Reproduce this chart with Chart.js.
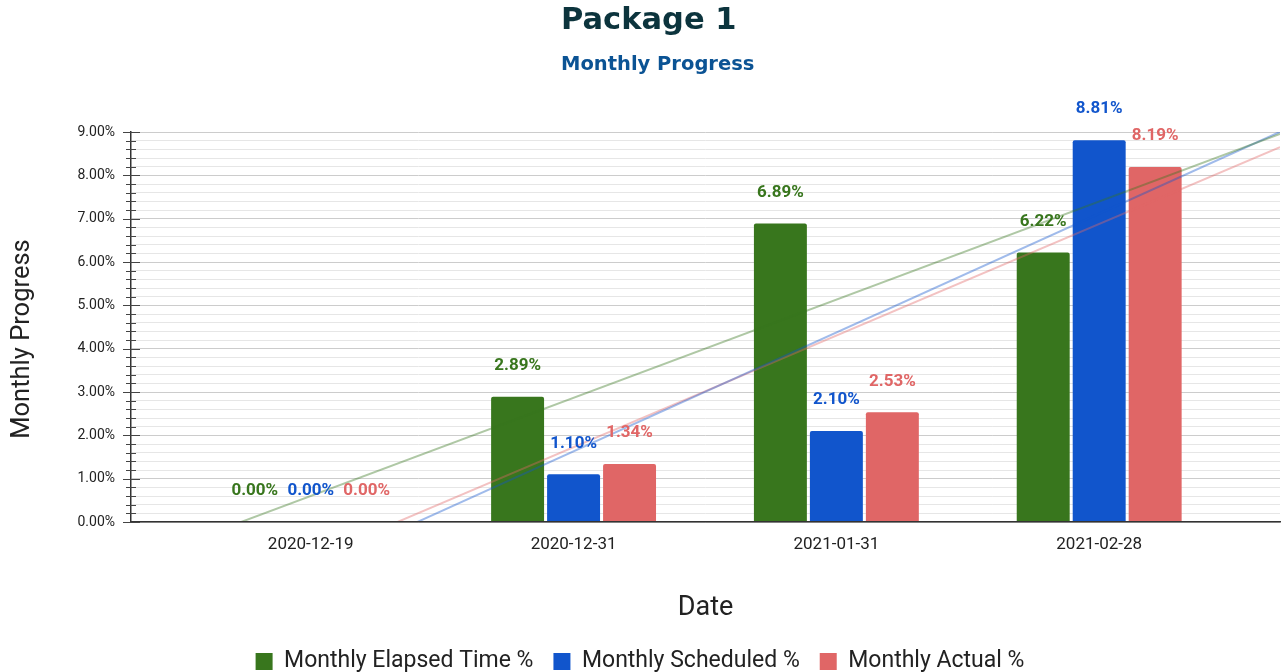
<!DOCTYPE html>
<html><head><meta charset="utf-8">
<script src="https://cdn.jsdelivr.net/npm/chart.js@4/dist/chart.umd.min.js"></script>
<style>html,body{margin:0;padding:0;background:#fff}#wrap{width:1284px;height:672px;position:relative}</style>
</head><body><div id="wrap"><canvas id="c"></canvas></div>
<script>
const categories = ['2020-12-19', '2020-12-31', '2021-01-31', '2021-02-28'];
const elapsedTime = [0.00, 2.89, 6.89, 6.22];
const scheduled = [0.00, 1.10, 2.10, 8.81];
const actual = [0.00, 1.34, 2.53, 8.19];
const seriesNames = ['Monthly Elapsed Time %', 'Monthly Scheduled %', 'Monthly Actual %'];
const seriesColors = ['#38761d', '#1155cc', '#e06666'];
const trendColors = ['rgba(56,118,29,0.4)', 'rgba(17,85,204,0.4)', 'rgba(224,102,102,0.4)'];
const chartTitle = 'Package 1';
const chartSubtitle = 'Monthly Progress';
const yAxisTitle = 'Monthly Progress';
const xAxisTitle = 'Date';

const X_MIN = -0.684, X_MAX = 3.688;
const TITLE_LEFT = 561;

function toPoints(vals) { return vals.map((v, i) => ({x: i, y: v})); }
// linear least-squares trendline over category index (as the source chart's trendlines)
function trend(vals) {
  const n = vals.length;
  const mx = (n - 1) / 2;
  const my = vals.reduce((a, b) => a + b, 0) / n;
  let sxy = 0, sxx = 0;
  vals.forEach((v, i) => { sxy += (i - mx) * (v - my); sxx += (i - mx) * (i - mx); });
  const m = sxy / sxx, b = my - m * mx;
  return [{x: X_MIN, y: b + m * X_MIN}, {x: X_MAX, y: b + m * X_MAX}];
}
const seriesVals = [elapsedTime, scheduled, actual];

const datasets = [];
seriesVals.forEach((vals, k) => {
  datasets.push({
    type: 'bar', label: seriesNames[k], data: toPoints(vals),
    backgroundColor: seriesColors[k], borderRadius: 2, borderSkipped: 'bottom',
    categoryPercentage: 0.639, barPercentage: 0.946, order: 2, isBar: true
  });
});
seriesVals.forEach((vals, k) => {
  datasets.push({
    type: 'line', label: 'trend' + k, data: trend(vals),
    borderColor: trendColors[k], borderWidth: 2, pointRadius: 0, order: 1, isTrend: true
  });
});

const labelPlugin = {
  id: 'barLabels',
  afterDatasetsDraw(chart) {
    const ctx = chart.ctx;
    ctx.save();
    ctx.font = 'bold 17px Roboto';
    ctx.textAlign = 'center';
    ctx.textBaseline = 'middle';
    chart.data.datasets.forEach((ds, di) => {
      if (!ds.isBar) return;
      const meta = chart.getDatasetMeta(di);
      ctx.fillStyle = ds.backgroundColor;
      meta.data.forEach((el, i) => {
        const v = ds.data[i].y;
        ctx.fillText(v.toFixed(2) + '%', el.x, el.y - 31);
      });
    });
    ctx.restore();
  }
};

const tickMarkPlugin = {
  id: 'tickMarks',
  afterDraw(chart) {
    const s = chart.scales.y;
    const x0 = chart.chartArea.left;
    const ctx = chart.ctx;
    ctx.save();
    ctx.strokeStyle = '#444';
    ctx.lineWidth = 1;
    s.ticks.forEach(t => {
      const y = Math.round(s.getPixelForValue(t.value)) + 0.5;
      const major = Math.abs(t.value - Math.round(t.value)) < 1e-6;
      ctx.beginPath();
      ctx.moveTo(x0 - (major ? 8 : 5), y);
      ctx.lineTo(x0 + (major ? 9 : 5), y);
      ctx.stroke();
    });
    // y-axis title (positioned as in the source chart, slightly below the plot centre)
    ctx.translate(22.5, 339);
    ctx.rotate(-Math.PI / 2);
    ctx.fillStyle = '#222';
    ctx.font = '25.5px Roboto';
    ctx.textAlign = 'center';
    ctx.textBaseline = 'middle';
    ctx.fillText(yAxisTitle, 0, 0);
    ctx.restore();
  }
};

const titleAlignPlugin = {
  id: 'titleAlign',
  afterLayout(chart) {
    chart.boxes.forEach(b => {
      if (b.options && (b.options.text === chartTitle || b.options.text === chartSubtitle) && !b.axis) {
        b.left = TITLE_LEFT;
      }
    });
  }
};

new Chart(document.getElementById('c'), {
  type: 'bar',
  data: { datasets },
  plugins: [labelPlugin, tickMarkPlugin, titleAlignPlugin],
  options: {
    responsive: true, maintainAspectRatio: false, animation: false,
    layout: { padding: { left: 0, right: 4, top: 0, bottom: -11 } },
    plugins: {
      title: { display: true, text: chartTitle, color: '#0c343d', align: 'start',
        font: { family: 'DejaVu Sans', size: 30.5, weight: 'bold' }, padding: { top: 3, bottom: 14 } },
      subtitle: { display: true, text: chartSubtitle, color: '#0b5394', align: 'start',
        font: { family: 'DejaVu Sans', size: 19.5, weight: 'bold' }, padding: { top: 0, bottom: 55 } },
      legend: { position: 'bottom',
        labels: { filter: (item, data) => !data.datasets[item.datasetIndex].isTrend,
          color: '#222', font: { family: 'Roboto', size: 23 }, boxWidth: 17, boxHeight: 17, padding: 20 } },
      tooltip: { enabled: false }
    },
    scales: {
      x: {
        type: 'linear', min: X_MIN, max: X_MAX, offset: false,
        afterBuildTicks: (s) => { s.ticks = categories.map((c, i) => ({ value: i })); },
        afterFit: (s) => { s.height = 108; },
        grid: { display: false, drawTicks: false },
        border: { display: true, color: '#333', width: 1.5, z: 1 },
        ticks: { callback: (v) => categories[Math.round(v)] ?? '', color: '#222',
          font: { family: 'Roboto', size: 17 }, padding: 13, maxRotation: 0, autoSkip: false },
        title: { display: true, text: xAxisTitle, color: '#222', font: { family: 'Roboto', size: 27 },
          padding: { top: 0, bottom: 6 } }
      },
      y: {
        min: 0, max: 9,
        afterFit: (s) => { s.width = 131; },
        grid: { drawTicks: false,
          color: (c) => (c.tick && Math.abs(c.tick.value - Math.round(c.tick.value)) < 1e-6) ? '#cccccc' : '#e6e6e6' },
        border: { display: true, color: '#333', width: 1.5 },
        ticks: { stepSize: 0.2, autoSkip: false, color: '#222', font: { family: 'Roboto', size: 14 }, padding: 16,
          callback: (v) => Math.abs(v - Math.round(v)) < 1e-6 ? Math.round(v).toFixed(2) + '%' : '' },
        title: { display: false }
      }
    }
  }
});
</script>
</body></html>
